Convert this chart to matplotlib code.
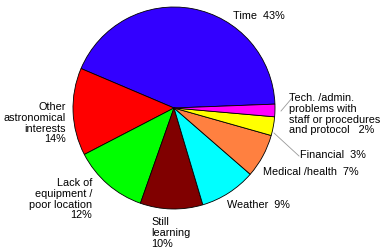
import matplotlib
matplotlib.use("Agg")
import matplotlib.pyplot as plt

plt.rcParams['font.family'] = ['Liberation Sans', 'DejaVu Sans']

# data
reasons = ["Time", "Other astronomical interests", "Lack of equipment / poor location",
           "Still learning", "Weather", "Medical /health", "Financial",
           "Tech. /admin. problems with staff or procedures and protocol"]
shares = [43, 14, 12, 10, 9, 7, 3, 2]
colors = ["#3300FF", "#FF0000", "#00FF00", "#800000", "#00FFFF", "#FF8040", "#FFFF00", "#FF00FF"]

label_texts = [
    "Time  43%",
    "Other\nastronomical\ninterests\n14%",
    "Lack of\nequipment /\npoor location\n12%",
    "Still\nlearning\n10%",
    "Weather  9%",
    "Medical /health  7%",
    "Financial  3%",
    "Tech. /admin.\nproblems with\nstaff or procedures\nand protocol   2%",
]

W, H = 380, 249
CX, CY, R = 174, 108, 101


def px(x, y):
    # pixel position -> data coords (pie radius 1 at centre 0,0)
    return (x - CX) / R, (CY - y) / R


fig = plt.figure(figsize=(W / 100, H / 100), dpi=100)
ax = fig.add_axes([0, 0, 1, 1])
ax.pie(shares, colors=colors, startangle=2.2, counterclock=True, radius=1,
       wedgeprops=dict(edgecolor="black", linewidth=0.6))
ax.set_xlim(-CX / R, (W - CX) / R)
ax.set_ylim(-(H - CY) / R, CY / R)
ax.set_aspect("auto")
ax.axis("off")

# (x, y, ha) in pixels, text top edge
placements = [
    (233, 11, "left"),
    (66, 102, "right"),
    (92, 178, "right"),
    (151, 217, "left"),
    (227, 200, "left"),
    (263, 167, "left"),
    (300, 150, "left"),
    (289, 93, "left"),
]
for txt, (x, y, ha) in zip(label_texts, placements):
    tx, ty = px(x, y)
    ax.text(tx, ty, txt, ha=ha, va="top", fontsize=7.8, linespacing=1.1, color="black")

# leader lines
for (x0, y0), (x1, y1) in [((281, 111), (292, 98)), ((274, 133), (299, 156))]:
    a, b = px(x0, y0)
    c, d = px(x1, y1)
    ax.plot([a, c], [b, d], color="#999999", linewidth=0.6)

fig.savefig("out.png", dpi=100)
